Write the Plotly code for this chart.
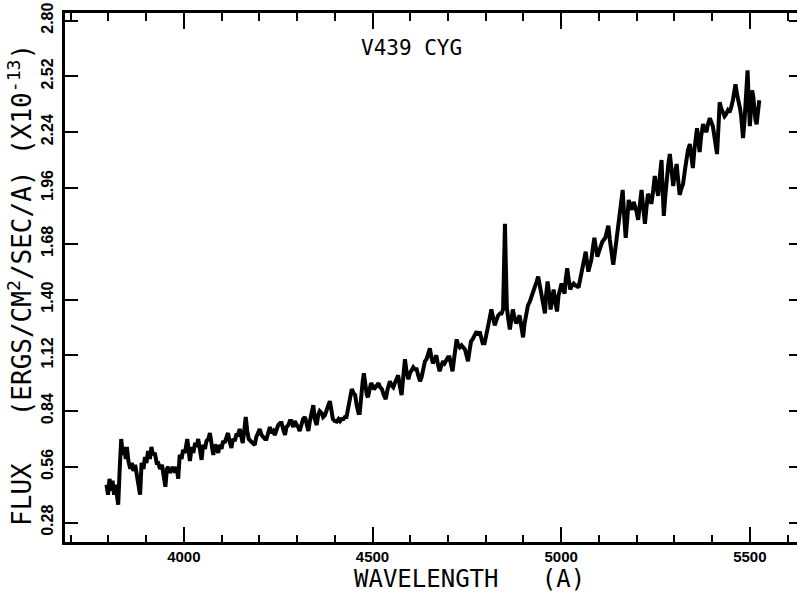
import plotly.graph_objects as go

# Wavelength (Angstrom) and flux (1e-13 erg/cm^2/s/A)
wavelength = [
    3795, 3799, 3803, 3807, 3811, 3815, 3819, 3823, 3826, 3830, 3834, 3838, 3842, 3846, 3849, 3853,
    3858, 3862, 3866, 3871, 3876, 3880, 3884, 3888, 3893, 3897, 3901, 3905, 3910, 3914, 3918, 3923,
    3928, 3932, 3937, 3942, 3947, 3951, 3955, 3959, 3963, 3968, 3972, 3976, 3981, 3985, 3989, 3994,
    3998, 4003, 4009, 4013, 4016, 4021, 4025, 4030, 4034, 4038, 4043, 4047, 4051, 4056, 4060, 4065,
    4069, 4074, 4078, 4082, 4087, 4091, 4095, 4100, 4104, 4108, 4113, 4117, 4121, 4126, 4130, 4135,
    4139, 4143, 4148, 4152, 4156, 4160, 4164, 4168, 4172, 4177, 4183, 4188, 4192, 4197, 4201, 4206,
    4210, 4215, 4219, 4224, 4228, 4232, 4237, 4241, 4246, 4250, 4255, 4259, 4263, 4268, 4272, 4277,
    4281, 4285, 4290, 4294, 4299, 4303, 4307, 4312, 4316, 4321, 4325, 4330, 4334, 4339, 4343, 4347,
    4352, 4356, 4360, 4365, 4369, 4374, 4378, 4383, 4387, 4391, 4395, 4400, 4405, 4410, 4414, 4418,
    4423, 4427, 4431, 4436, 4440, 4445, 4450, 4454, 4458, 4463, 4466, 4470, 4474, 4477, 4481, 4485,
    4488, 4492, 4496, 4500, 4504, 4508, 4512, 4516, 4520, 4525, 4530, 4535, 4540, 4546, 4550, 4555,
    4559, 4564, 4568, 4572, 4577, 4581, 4586, 4590, 4595, 4599, 4604, 4608, 4612, 4617, 4621, 4626,
    4630, 4634, 4639, 4643, 4648, 4652, 4656, 4660, 4665, 4669, 4674, 4678, 4683, 4687, 4691, 4696,
    4700, 4704, 4708, 4712, 4716, 4720, 4723, 4727, 4731, 4736, 4740, 4745, 4749, 4753, 4757, 4761,
    4765, 4770, 4776, 4780, 4784, 4788, 4792, 4797, 4802, 4806, 4811, 4815, 4820, 4824, 4829, 4833,
    4838, 4842, 4846, 4849, 4851, 4853, 4856, 4860, 4864, 4868, 4872, 4876, 4881, 4885, 4890, 4894,
    4899, 4903, 4908, 4912, 4917, 4921, 4925, 4930, 4935, 4939, 4944, 4948, 4952, 4957, 4960, 4964,
    4968, 4972, 4976, 4980, 4985, 4989, 4993, 4997, 5001, 5005, 5009, 5012, 5016, 5020, 5024, 5028,
    5033, 5037, 5041, 5046, 5050, 5054, 5058, 5062, 5065, 5069, 5072, 5076, 5080, 5084, 5088, 5092,
    5096, 5100, 5105, 5109, 5113, 5117, 5121, 5125, 5129, 5133, 5138, 5142, 5146, 5150, 5154, 5158,
    5163, 5167, 5171, 5175, 5179, 5183, 5187, 5192, 5196, 5200, 5204, 5208, 5213, 5217, 5222, 5226,
    5230, 5235, 5239, 5244, 5248, 5252, 5257, 5261, 5266, 5269, 5272, 5276, 5280, 5284, 5288, 5293,
    5297, 5301, 5306, 5310, 5314, 5319, 5323, 5328, 5332, 5336, 5341, 5345, 5349, 5353, 5358, 5360,
    5364, 5367, 5371, 5376, 5380, 5385, 5389, 5394, 5398, 5402, 5406, 5410, 5413, 5417, 5420, 5424,
    5429, 5433, 5437, 5442, 5446, 5450, 5455, 5459, 5462, 5466, 5470, 5474, 5477, 5480, 5482, 5486,
    5489, 5492, 5494, 5497, 5500, 5503, 5506, 5509, 5512, 5515, 5518, 5521, 5525,
]
flux = [
    0.47, 0.42, 0.50, 0.44, 0.49, 0.42, 0.47, 0.38, 0.37, 0.55, 0.70, 0.62, 0.66, 0.60, 0.66, 0.59,
    0.55, 0.58, 0.54, 0.57, 0.52, 0.48, 0.42, 0.58, 0.55, 0.61, 0.58, 0.64, 0.60, 0.66, 0.62, 0.63,
    0.58, 0.58, 0.55, 0.57, 0.52, 0.46, 0.55, 0.56, 0.53, 0.55, 0.56, 0.53, 0.56, 0.50, 0.62, 0.60,
    0.645, 0.63, 0.70, 0.64, 0.59, 0.66, 0.63, 0.68, 0.66, 0.70, 0.64, 0.595, 0.67, 0.65, 0.69, 0.70,
    0.73, 0.68, 0.62, 0.67, 0.66, 0.63, 0.67, 0.65, 0.69, 0.68, 0.71, 0.73, 0.69, 0.655, 0.70, 0.69,
    0.72, 0.72, 0.75, 0.72, 0.68, 0.74, 0.81, 0.74, 0.70, 0.69, 0.68, 0.67, 0.71, 0.73, 0.75, 0.72,
    0.71, 0.70, 0.70, 0.74, 0.76, 0.73, 0.74, 0.72, 0.75, 0.77, 0.78, 0.78, 0.75, 0.72, 0.76, 0.77,
    0.79, 0.79, 0.76, 0.79, 0.77, 0.76, 0.74, 0.78, 0.80, 0.81, 0.77, 0.74, 0.79, 0.84, 0.87, 0.80,
    0.77, 0.82, 0.84, 0.83, 0.81, 0.82, 0.85, 0.87, 0.89, 0.85, 0.80, 0.79, 0.787, 0.80, 0.79, 0.80,
    0.80, 0.81, 0.81, 0.86, 0.90, 0.95, 0.93, 0.92, 0.87, 0.83, 0.83, 0.93, 0.99, 1.03, 0.97, 0.92,
    0.91, 0.95, 0.98, 0.97, 0.95, 0.96, 0.97, 0.98, 0.96, 0.95, 0.92, 0.90, 0.95, 0.99, 0.97, 0.96,
    0.98, 1.00, 1.02, 0.97, 0.92, 1.00, 1.10, 1.04, 1.00, 1.03, 1.05, 1.06, 1.05, 1.05, 1.02, 0.99,
    1.01, 1.06, 1.09, 1.10, 1.13, 1.155, 1.11, 1.08, 1.10, 1.12, 1.07, 1.04, 1.07, 1.09, 1.08, 1.10,
    1.11, 1.11, 1.08, 1.04, 1.10, 1.17, 1.20, 1.17, 1.16, 1.17, 1.16, 1.15, 1.12, 1.09, 1.14, 1.19,
    1.20, 1.22, 1.24, 1.22, 1.24, 1.21, 1.18, 1.18, 1.22, 1.26, 1.31, 1.35, 1.30, 1.27, 1.30, 1.32,
    1.33, 1.33, 1.35, 1.55, 1.78, 1.60, 1.36, 1.30, 1.25, 1.30, 1.35, 1.31, 1.28, 1.30, 1.32, 1.27,
    1.21, 1.28, 1.33, 1.37, 1.39, 1.41, 1.43, 1.46, 1.49, 1.515, 1.47, 1.43, 1.38, 1.33, 1.42, 1.49,
    1.43, 1.35, 1.40, 1.45, 1.38, 1.34, 1.42, 1.46, 1.48, 1.45, 1.43, 1.50, 1.557, 1.50, 1.45, 1.47,
    1.48, 1.47, 1.47, 1.46, 1.50, 1.53, 1.565, 1.60, 1.64, 1.58, 1.54, 1.57, 1.60, 1.66, 1.71, 1.66,
    1.615, 1.64, 1.67, 1.69, 1.70, 1.71, 1.74, 1.77, 1.70, 1.63, 1.575, 1.63, 1.69, 1.75, 1.80, 1.88,
    1.95, 1.82, 1.71, 1.80, 1.90, 1.87, 1.85, 1.89, 1.87, 1.84, 1.80, 1.88, 1.95, 1.87, 1.78, 1.86,
    1.93, 1.91, 1.88, 1.95, 2.02, 1.97, 1.92, 2.01, 2.10, 1.95, 1.82, 1.92, 2.02, 2.08, 2.13, 2.05,
    1.97, 2.03, 2.08, 2.00, 1.925, 1.96, 1.98, 2.05, 2.12, 2.15, 2.18, 2.12, 2.06, 2.15, 2.22, 2.26,
    2.19, 2.14, 2.22, 2.28, 2.26, 2.24, 2.28, 2.31, 2.29, 2.27, 2.22, 2.17, 2.13, 2.27, 2.39, 2.36,
    2.33, 2.32, 2.33, 2.35, 2.34, 2.36, 2.40, 2.45, 2.48, 2.43, 2.40, 2.36, 2.32, 2.24, 2.21, 2.30,
    2.38, 2.48, 2.55, 2.40, 2.27, 2.35, 2.45, 2.42, 2.35, 2.30, 2.28, 2.35, 2.40,
]

y_tick_vals = [0.28, 0.56, 0.84, 1.12, 1.40, 1.68, 1.96, 2.24, 2.52, 2.80]
y_tick_text = ["0.28", "0.56", "0.84", "1.12", "1.40", "1.68", "1.96", "2.24", "2.52", "2.80"]
x_tick_vals = [4000, 4500, 5000, 5500]
x_tick_text = ["4000", "4500", "5000", "5500"]

title_text = "V439 CYG"
x_title = "WAVELENGTH\u00a0\u00a0\u00a0(A)"
y_title = "FLUX\u00a0\u00a0\u00a0(ERGS/CM<sup>2</sup>/SEC/A)\u00a0(X10<sup>-13</sup>)"

X_RANGE = [3685, 5625]
Y_RANGE = [0.183, 2.838]

stroke_font = "DejaVu Sans Mono, DejaVu Sans, monospace"
tick_font = dict(family="Liberation Sans Narrow, Liberation Sans, Arial", size=16, color="black", weight="bold")
x_tick_font = dict(family="Liberation Sans Narrow, Liberation Sans, Arial", size=15, color="black", weight="bold")

fig = go.Figure()
fig.add_trace(go.Scatter(
    x=wavelength, y=flux, mode="lines",
    line=dict(color="black", width=4),
    hoverinfo="skip", showlegend=False,
))
# invisible companion trace to anchor the mirrored tick axes
fig.add_trace(go.Scatter(
    x=wavelength, y=flux, mode="lines", xaxis="x2", yaxis="y2",
    line=dict(color="rgba(0,0,0,0)", width=0), hoverinfo="skip", showlegend=False,
))

fig.update_layout(
    width=797, height=595,
    margin=dict(l=65, r=0, t=13, b=53),
    paper_bgcolor="white", plot_bgcolor="white",
    showlegend=False,
    xaxis=dict(
        range=X_RANGE, showgrid=False, zeroline=False,
        showline=True, linecolor="black", linewidth=2.5, mirror=True,
        tickmode="array", tickvals=x_tick_vals, ticktext=x_tick_text,
        ticks="inside", ticklen=15, tickwidth=2, tickcolor="black",
        minor=dict(tick0=3700, dtick=100, ticks="inside", ticklen=7, tickwidth=1.5, tickcolor="black", showgrid=False),
        tickfont=x_tick_font, ticklabelstandoff=-1,
    ),
    xaxis2=dict(
        range=X_RANGE, overlaying="x", side="top", showgrid=False, zeroline=False,
        showline=False, showticklabels=False,
        tickmode="array", tickvals=x_tick_vals,
        ticks="inside", ticklen=16, tickwidth=2, tickcolor="black",
        minor=dict(tick0=3700, dtick=100, ticks="inside", ticklen=8, tickwidth=1.5, tickcolor="black", showgrid=False),
    ),
    yaxis=dict(
        range=Y_RANGE, showgrid=False, zeroline=False,
        showline=True, linecolor="black", linewidth=2.5,
        tickmode="array", tickvals=y_tick_vals, ticktext=y_tick_text,
        ticks="inside", ticklen=13, tickwidth=2, tickcolor="black",
        tickangle=-90, tickfont=tick_font, ticklabelstandoff=3,
    ),
    yaxis2=dict(
        range=Y_RANGE, overlaying="y", side="right", showgrid=False, zeroline=False,
        showline=False, showticklabels=False,
        tickmode="array", tickvals=y_tick_vals,
        ticks="inside", ticklen=8, tickwidth=2, tickcolor="black",
    ),
    annotations=[
        dict(text=title_text, xref="paper", yref="paper", x=0.474, y=0.934,
             showarrow=False, font=dict(family=stroke_font, size=21, color="black"),
             xanchor="center", yanchor="middle"),
        dict(text=x_title, xref="paper", yref="paper", x=0.553, y=-0.1002,
             showarrow=False, font=dict(family=stroke_font, size=24, color="black"),
             xanchor="center", yanchor="bottom"),
        dict(text=y_title, xref="paper", yref="paper", x=-0.0615, y=0.486,
             showarrow=False, textangle=-90, font=dict(family=stroke_font, size=26, color="black"),
             xanchor="center", yanchor="middle"),
    ],
)

fig.write_html(
    "out.html",
    config={"displayModeBar": False},
    post_script="document.body.style.margin='0';",
)
